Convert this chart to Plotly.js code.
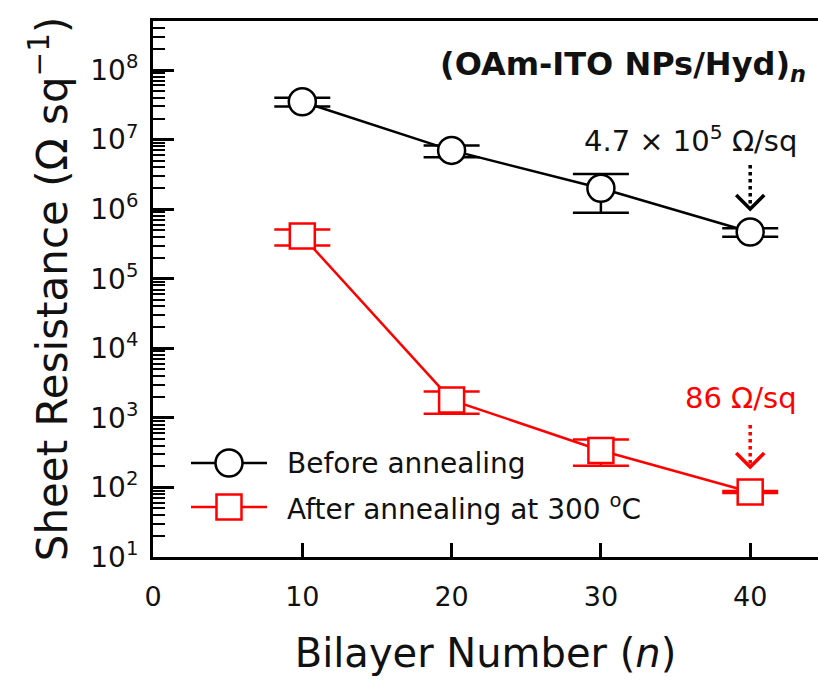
<!DOCTYPE html>
<html><head><meta charset="utf-8">
<script src="https://cdn.plot.ly/plotly-3.0.1.min.js"></script>
<style>html,body{margin:0;padding:0;background:#fff}</style>
</head><body>
<div id="chart" style="width:818px;height:684px"></div>
<script>
// ---- data ----
const bilayers = [10, 20, 30, 40];
const beforeR  = [3.5e7, 7.0e6, 2.0e6, 4.7e5];
const beforeHi = [4.0e7, 8.2e6, 3.2e6, 5.3e5];
const beforeLo = [3.0e7, 5.6e6, 8.9e5, 4.0e5];
const afterR   = [4.1e5, 1.8e3, 340, 86];
const afterHi  = [5.1e5, 2.4e3, 490, 89];
const afterLo  = [3.0e5, 1.15e3, 205, 83];
const xTickVals = [0, 10, 20, 30, 40];
const yTickExps = [1, 2, 3, 4, 5, 6, 7, 8];
const seriesNames = ['Before annealing', 'After annealing at 300 <sup>o</sup>C'];
const seriesColors = ['#000000', '#ff0000'];

// ---- geometry helpers ----
const W = 818, H = 684, L = 153, R = 0, T = 21, B = 127;
const pw = W - L - R, ph = H - T - B;
const px = x => (x - L) / pw;           // pixel -> paper x
const py = y => (H - B - y) / ph;       // pixel -> paper y
const FONT = 'DejaVu Sans, Liberation Sans, Arial, sans-serif';
const RED = seriesColors[1];

const plus = (v, hi) => v.map((d, i) => hi[i] - d);
const minus = (v, lo) => v.map((d, i) => d - lo[i]);

const traces = [
  {
    x: bilayers, y: beforeR, name: seriesNames[0], type: 'scatter', mode: 'lines+markers',
    line: {color: seriesColors[0], width: 2.5},
    marker: {symbol: 'circle', size: 27, color: '#ffffff', line: {color: seriesColors[0], width: 2.5}},
    error_y: {type: 'data', symmetric: false, array: plus(beforeR, beforeHi), arrayminus: minus(beforeR, beforeLo),
              color: seriesColors[0], thickness: 2.5, width: 28},
    showlegend: false
  },
  {
    x: bilayers, y: afterR, name: seriesNames[1], type: 'scatter', mode: 'lines+markers',
    line: {color: seriesColors[1], width: 2.5},
    marker: {symbol: 'square', size: 25, color: '#ffffff', line: {color: seriesColors[1], width: 2.5}},
    error_y: {type: 'data', symmetric: false, array: plus(afterR, afterHi), arrayminus: minus(afterR, afterLo),
              color: seriesColors[1], thickness: 2.5, width: 28},
    showlegend: false
  }
];

// minor tick positions on log axis (2..9 per decade)
const yTop = 8.705;
const minorVals = [];
for (let e = 1; e <= 8; e++) for (let k = 2; k <= 9; k++) {
  if (Math.log10(k * Math.pow(10, e)) <= yTop) minorVals.push(k * Math.pow(10, e));
}

// manual legend (long line + large marker like the reference)
const legRows = [py(463), py(507)];
const legX0 = px(191), legX1 = px(267), legXc = px(229), legTx = px(285);
const shapes = [
  {type: 'line', xref: 'paper', yref: 'paper', x0: legX0, x1: legX1, y0: legRows[0], y1: legRows[0], line: {color: seriesColors[0], width: 2.5}},
  {type: 'circle', xref: 'paper', yref: 'paper', xsizemode: 'pixel', ysizemode: 'pixel', xanchor: legXc, yanchor: legRows[0],
   x0: -13.5, x1: 13.5, y0: -13.5, y1: 13.5, line: {color: seriesColors[0], width: 2.5}, fillcolor: '#ffffff'},
  {type: 'line', xref: 'paper', yref: 'paper', x0: legX0, x1: legX1, y0: legRows[1], y1: legRows[1], line: {color: RED, width: 2.5}},
  {type: 'rect', xref: 'paper', yref: 'paper', xsizemode: 'pixel', ysizemode: 'pixel', xanchor: legXc, yanchor: legRows[1],
   x0: -12.5, x1: 12.5, y0: -12.5, y1: 12.5, line: {color: RED, width: 2.5}, fillcolor: '#ffffff'},
  // dotted arrows pointing at the n = 40 values
  {type: 'line', xref: 'x', yref: 'paper', x0: 40, x1: 40, y0: py(165), y1: py(207), line: {color: '#000', width: 3.5, dash: 'dot'}},
  {type: 'path', xref: 'x', yref: 'paper', xsizemode: 'pixel', ysizemode: 'pixel', xanchor: 40, yanchor: py(210),
   path: 'M -14 15 L 0 1 L 14 15', line: {color: '#000', width: 3.5}},
  {type: 'line', xref: 'x', yref: 'paper', x0: 40, x1: 40, y0: py(425), y1: py(465), line: {color: RED, width: 3.5, dash: 'dot'}},
  {type: 'path', xref: 'x', yref: 'paper', xsizemode: 'pixel', ysizemode: 'pixel', xanchor: 40, yanchor: py(468),
   path: 'M -14 15 L 0 1 L 14 15', line: {color: RED, width: 3.5}}
];

const annotations = [
  {xref: 'paper', yref: 'paper', x: legTx, y: legRows[0], xanchor: 'left', yanchor: 'middle', showarrow: false,
   text: seriesNames[0], font: {family: FONT, size: 28, color: '#111'}},
  {xref: 'paper', yref: 'paper', x: legTx, y: legRows[1], xanchor: 'left', yanchor: 'middle', showarrow: false,
   text: seriesNames[1], font: {family: FONT, size: 28, color: '#111'}},
  {xref: 'paper', yref: 'paper', x: px(808), y: py(66), xanchor: 'right', yanchor: 'middle', showarrow: false,
   text: '<b>(OAm-ITO NPs/Hyd)<sub><i>n</i></sub></b>', font: {family: FONT, size: 32, color: '#111'}},
  {xref: 'paper', yref: 'paper', x: px(799), y: py(139), xanchor: 'right', yanchor: 'middle', showarrow: false,
   text: '4.7 × 10<sup>5</sup> Ω/sq', font: {family: FONT, size: 29, color: '#111'}},
  {xref: 'paper', yref: 'paper', x: px(799), y: py(398), xanchor: 'right', yanchor: 'middle', showarrow: false,
   text: '86 Ω/sq', font: {family: FONT, size: 29, color: RED}}
];

const layout = {
  width: W, height: H,
  margin: {l: L, r: R, t: T, b: B},
  paper_bgcolor: '#ffffff', plot_bgcolor: '#ffffff',
  font: {family: FONT, color: '#111'},
  showlegend: false,
  xaxis: {
    range: [0, pw / 149.3 * 10],
    tickvals: xTickVals, ticktext: xTickVals.map(String),
    ticks: 'inside', ticklen: 14, tickwidth: 3, tickcolor: '#000',
    showline: true, linewidth: 3, linecolor: '#000', mirror: true,
    showgrid: false, zeroline: false,
    tickfont: {family: FONT, size: 27, color: '#111'},
    ticklabelstandoff: 14,
    title: {text: 'Bilayer Number (<i>n</i>)', font: {family: FONT, size: 40, color: '#111'}, standoff: 28}
  },
  yaxis: {
    type: 'log', range: [1, yTop],
    tickvals: yTickExps.map(e => Math.pow(10, e)),
    ticktext: yTickExps.map(e => '10<sup>' + e + '</sup>'),
    ticks: 'inside', ticklen: 21, tickwidth: 3, tickcolor: '#000',
    minor: {tickvals: minorVals, ticks: 'inside', ticklen: 12, tickwidth: 2, tickcolor: '#000', showgrid: false},
    showline: true, linewidth: 3, linecolor: '#000', mirror: false,
    showgrid: false, zeroline: false,
    tickfont: {family: FONT, size: 28, color: '#111'},
    ticklabelstandoff: 6,
    title: {text: 'Sheet Resistance (Ω sq<sup>−1</sup>)', font: {family: FONT, size: 42, color: '#111'}, standoff: 10}
  },
  shapes: shapes,
  annotations: annotations
};

Plotly.newPlot('chart', traces, layout, {displayModeBar: false, staticPlot: true});
</script>
</body></html>
